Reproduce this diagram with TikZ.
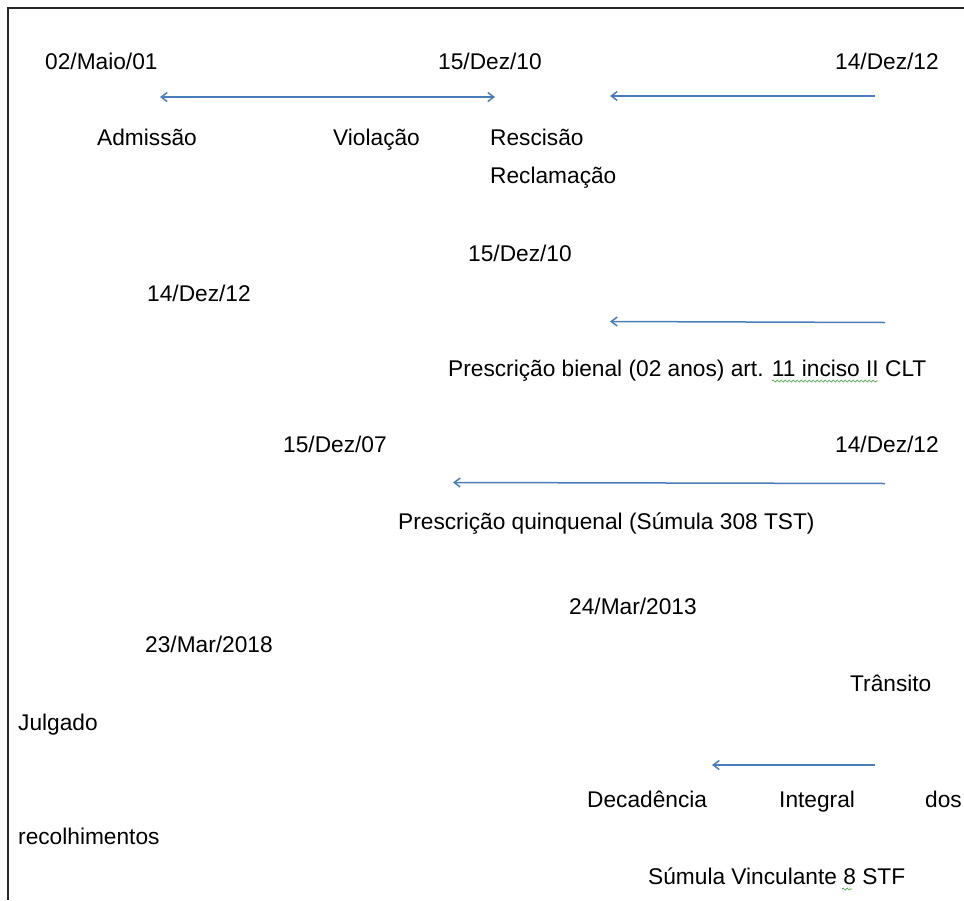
\documentclass[tikz,border=0pt]{standalone}
\usepackage{fontspec}
\setmainfont{Liberation Sans}
\usetikzlibrary{arrows.meta,decorations.pathmorphing}
\definecolor{azulseta}{RGB}{74,126,187}
\definecolor{verdecorr}{RGB}{70,165,70}

\begin{document}
\begin{tikzpicture}[>={Straight Barb[length=6pt,width=9pt]},x=1pt,y=-1pt,
		txt/.style={anchor=base west,inner sep=0pt,font=\fontsize{22.7}{27}\selectfont},
		seta/.style={azulseta,line width=1.5pt},
		corr/.style={verdecorr,line width=0.7pt,decorate,decoration={snake,amplitude=1pt,segment length=4pt}}]
		\useasboundingbox (0,0) rectangle (964,900);
		\draw[line width=1.6pt,black!85] (8,900) -- (8,8) -- (964,8);
		% linha 1
		\node[txt] (dAdm) at (45,69.5) {02/Maio/01};
		\node[txt] (dRes) at (438,69.5) {15/Dez/10};
		\node[txt] (dRec) at (835,69.5) {14/Dez/12};
		\coordinate (a1) at (160,97); \coordinate (b1) at (495,97);
		\coordinate (a2) at (875,96); \coordinate (b2) at (610,96);
		\draw[seta,<->] (a1) -- (b1);
		\draw[seta,->] (a2) -- (b2);
		\node[txt] (adm) at (97,145.5) {Admissão};
		\node[txt] (viol) at (333,145.5) {Violação};
		\node[txt] (resc) at (490,145.5) {Rescisão};
		\node[txt] (recl) at (490,183.5) {Reclamação};
		% bienal
		\node[txt] (dBie1) at (468,261.5) {15/Dez/10};
		\node[txt] (dBie2) at (147,301.5) {14/Dez/12};
		\coordinate (a3) at (885,322.5); \coordinate (b3) at (610,321.5);
		\draw[seta,->] (a3) -- (b3);
		\node[txt] (bienal) at (448,376.5) {Prescrição bienal (02 anos) art. 11 inciso II CLT};
		\draw[corr] (772,381) -- (878,381);
		% quinquenal
		\node[txt] (dQui1) at (283,452.5) {15/Dez/07};
		\node[txt] (dQui2) at (835,452.5) {14/Dez/12};
		\coordinate (a4) at (885,483.5); \coordinate (b4) at (453,482.5);
		\draw[seta,->] (a4) -- (b4);
		\node[txt] (quinq) at (398,529.5) {Prescrição quinquenal (Súmula 308 TST)};
		% decadencia
		\node[txt] (dDec1) at (569,614.5) {24/Mar/2013};
		\node[txt] (dDec2) at (145,652.5) {23/Mar/2018};
		\node[txt] (trans) at (850,691.5) {Trânsito};
		\node[txt] (julg) at (18,730) {Julgado};
		\coordinate (a5) at (875,765); \coordinate (b5) at (712,765);
		\draw[seta,->] (a5) -- (b5);
		\node[txt] (decad) at (587,807.5) {Decadência};
		\node[txt] (integ) at (779,807.5) {Integral};
		\node[txt] (dos) at (925,807.5) {dos};
		\node[txt] (recol) at (18,844.5) {recolhimentos};
		\node[txt] (sumv) at (648,884.5) {Súmula Vinculante 8 STF};
		\draw[corr] (842,889) -- (852,889);
\end{tikzpicture}
\end{document}
